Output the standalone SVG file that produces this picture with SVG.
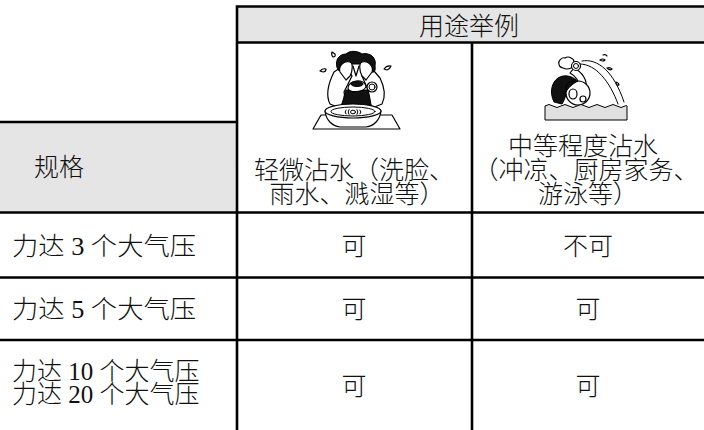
<svg xmlns="http://www.w3.org/2000/svg" width="704" height="430" viewBox="0 0 704 430">
<style>
.t{font-family:"Liberation Serif","Noto Sans CJK SC",serif;font-size:25px;fill:#111;font-weight:300}
.c{text-anchor:middle}
.g{fill:#e5e5e5}
.ln{stroke:#000;stroke-width:2.6;fill:none}
.d{stroke:#000;stroke-width:1.2;fill:#fff;stroke-linejoin:round;stroke-linecap:round}
.k{fill:#111;stroke:#000;stroke-width:1}
.s{stroke:#000;stroke-width:1;fill:none;stroke-linecap:round}
</style>
<rect width="704" height="430" fill="#fff"/>
<g id="header-fill">
<rect class="g" x="237" y="6" width="467" height="36.5"/>
<rect class="g" x="0" y="122" width="237" height="90.5"/>
</g>
<g id="grid">
<path class="ln" d="M237,6.5H704 M237,42.5H704 M237,5.2V430 M472,42.5V430 M0,122H237 M0,212.5H704 M0,277.5H704 M0,340H704"/>
</g>
<g id="head-usage"><text class="t c" x="469" y="35">用途举例</text></g>
<g id="head-spec"><text class="t c" x="59" y="176">规格</text></g>
<g id="pic-light">
<polygon class="d" points="321,115 392,115 400,129 313,129"/>
<path class="d" d="M330,104 C326,96 328,84 334,72 L346,64 L352,76 L344,92 C346,98 344,104 340,108 Z"/>
<path class="d" d="M382,104 C386,96 384,86 380,78 L368,64 L362,76 L368,90 C366,98 368,104 372,108 Z"/>
<path class="k" d="M340,108 C344,100 344,94 346,90 L368,90 C370,96 370,102 372,108 Z"/>
<path class="k" d="M338,70 C334,62 338,54 346,54 C350,50 358,51 362,54 C370,52 377,58 375,66 C376,70 374,73 372,72 L366,64 L348,64 L342,72 Z"/>
<path class="d" d="M340,72 C338,66 344,60 350,62 C353,63 353,70 350,76 L346,80 Z"/>
<path class="d" d="M372,72 C374,66 368,60 362,62 C359,63 359,70 362,76 L366,80 Z"/>
<path class="d" d="M353,66 L356,76 L359,66"/>
<path class="d" d="M348,88 C348,80 364,78 366,86 C366,92 348,94 348,88 Z"/>
<ellipse class="k" cx="357" cy="84" rx="6" ry="2.5"/>
<circle class="d" cx="372" cy="87" r="5"/>
<circle class="s" cx="372" cy="87" r="3"/>
<path class="d" d="M325,111 C326,120 332,126 340,127 L366,127 C374,126 380,120 381,111 Z"/>
<ellipse class="d" cx="353" cy="111" rx="28" ry="7"/>
<ellipse class="s" cx="353" cy="111.5" rx="22" ry="4.5"/>
<path class="s" d="M346,110 q-2,2 0,4 M349,109.5 q-2,2.5 0,5 M360,110 q2,2 0,4 M357,109.5 q2,2.5 0,5"/>
<ellipse class="s" cx="353" cy="112" rx="2.5" ry="1.8"/>
<path class="d" d="M332,52 q-1,3 1,5 q3,0 2,-3 Z"/>
<path class="d" d="M320,71 q3,-3 6,-2 q0,3 -3,3 Z"/>
<path class="d" d="M384,69 q3,-4 7,-3 q-1,3 -4,4 Z"/>
</g>
<g id="pic-moderate">
<path class="s" d="M582,61 C598,58 614,72 624,102"/>
<path class="s" d="M580,64 C596,64 610,82 618,104"/>
<path class="d" d="M600,60 q3,-2 5,0 q-2,2 -5,0 Z"/>
<path class="d" d="M607,68 q3,-1 5,1 q-2,2 -5,-1 Z"/>
<path class="d" d="M616,82 q3,1 3,3 q-3,1 -3,-3 Z"/>
<path class="d" d="M603,55 q3,-1 4,1"/>
<path class="d" d="M586,90 C588,80 582,72 574,68 L570,73 C576,76 580,82 578,88 Z"/>
<path class="d" d="M560,60 q2,-3 5,-2 q3,-2 6,0 q3,1 3,4 q1,4 -3,6 q-4,2 -8,0 q-4,-1 -4,-4 q-1,-2 1,-4 Z"/>
<circle class="d" cx="576" cy="66" r="4.5"/>
<circle class="s" cx="576" cy="66" r="2.5"/>
<path class="k" d="M554,102 C549,92 552,82 558,78 C564,74 572,76 576,80 L568,86 C566,92 566,98 562,104 Z"/>
<circle class="d" cx="578" cy="93" r="12"/>
<path class="k" d="M566,86 C568,82 574,80 578,81 C572,84 568,88 566,92 Z"/>
<ellipse class="d" cx="573" cy="94" rx="4" ry="5"/>
<circle class="d" cx="583" cy="99" r="3"/>
<path d="M545,106 q4,-3 8,0 t8,0 t8,0 t8,0 t8,0 t8,0 t8,0 t8,0 t8,0 t8,0 q2,-1 2,0 V120 H545 Z" fill="#e0e0e0" stroke="#000" stroke-width="1"/>
</g>
<g id="col-light"><text class="t c"><tspan x="354" y="179">轻微沾水（洗脸、</tspan><tspan x="357" y="203">雨水、溅湿等）</tspan></text></g>
<g id="col-moderate"><text class="t c"><tspan x="583" y="155">中等程度沾水</tspan><tspan x="586" y="179">（冲凉、厨房家务、</tspan><tspan x="588" y="203">游泳等）</tspan></text></g>
<g id="row-3atm"><text class="t" x="12" y="255" textLength="184" lengthAdjust="spacingAndGlyphs">力达 3 个大气压</text><text class="t c" x="354" y="255">可</text><text class="t c" x="588" y="255">不可</text></g>
<g id="row-5atm"><text class="t" x="12" y="318" textLength="184" lengthAdjust="spacingAndGlyphs">力达 5 个大气压</text><text class="t c" x="354" y="318">可</text><text class="t c" x="588" y="318">可</text></g>
<g id="row-10-20atm"><text class="t"><tspan x="12" y="380">力达 10 个大气压</tspan><tspan x="12" y="403">力达 20 个大气压</tspan></text><text class="t c" x="354" y="395">可</text><text class="t c" x="588" y="395">可</text></g>
</svg>
